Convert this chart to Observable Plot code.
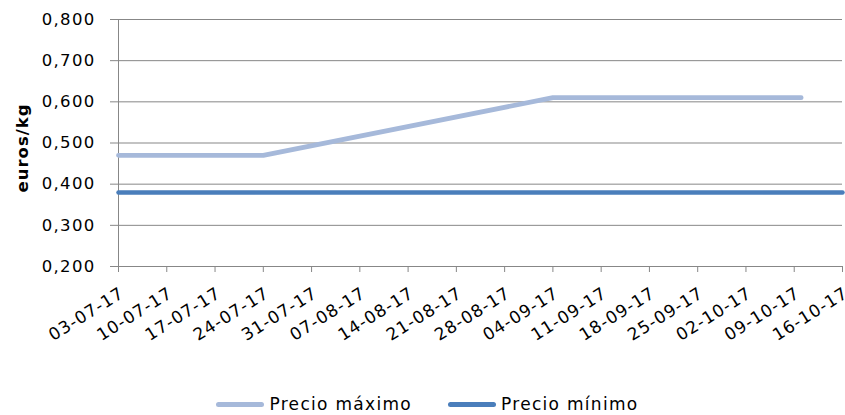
<!DOCTYPE html>
<html><head><meta charset="utf-8">
<script src="https://cdn.jsdelivr.net/npm/d3@7"></script>
<script src="https://cdn.jsdelivr.net/npm/@observablehq/plot@0.6"></script>
<style>
body{margin:0;background:#fff;}
#wrap{width:845px;height:415px;position:relative;font-family:"DejaVu Sans",sans-serif;}
#legend{position:absolute;top:394px;left:0;width:845px;display:flex;justify-content:center;align-items:center;gap:36px;font-size:17px;letter-spacing:1.3px;color:#000;box-sizing:border-box;padding-left:10px;}
.item{display:flex;align-items:center;gap:5px;}
.sw{width:48px;height:5px;border-radius:3px;}
#chart svg g[aria-label="y-axis tick label"] text{letter-spacing:1.3px;}
#chart svg g[aria-label="x-axis tick label"] text{letter-spacing:1px;}
#chart svg g[aria-label="text"] text{letter-spacing:1px;}
</style></head>
<body><div id="wrap"><div id="chart"></div>
<div id="legend"></div></div>
<script>
// Data
const weekLabels = ["2017-07-03","2017-07-10","2017-07-17","2017-07-24","2017-07-31","2017-08-07","2017-08-14","2017-08-21","2017-08-28","2017-09-04","2017-09-11","2017-09-18","2017-09-25","2017-10-02","2017-10-09","2017-10-16"];
const maxDates = ["2017-07-03","2017-07-24","2017-09-04","2017-10-10"];
const maxValues = [0.47, 0.47, 0.61, 0.61];
const minDates = ["2017-07-03","2017-10-16"];
const minValues = [0.38, 0.38];
const yTicks = [0.2, 0.3, 0.4, 0.5, 0.6, 0.7, 0.8];
const seriesNames = ["Precio máximo", "Precio mínimo"];
const colors = ["#A6B9DA", "#4A7EBB"];

const parse = d3.utcParse("%Y-%m-%d");
const weeks = weekLabels.map(parse);
const maxData = maxDates.map((d, i) => ({date: parse(d), value: maxValues[i]}));
const minData = minDates.map((d, i) => ({date: parse(d), value: minValues[i]}));
const fmtY = d => d.toFixed(3).replace(".", ",");
const fmtX = d3.utcFormat("%d-%m-%y");
const grid = "#878787";

const chart = Plot.plot({
  width: 845,
  height: 385,
  marginTop: 19,
  marginBottom: 119,
  marginLeft: 118,
  marginRight: 3,
  style: {fontFamily: "DejaVu Sans, sans-serif", fontSize: "16px", color: "#000", background: "#fff", overflow: "visible"},
  x: {type: "utc", domain: [weeks[0], weeks[weeks.length - 1]]},
  y: {domain: [0.2, 0.8]},
  marks: [
    Plot.gridY(yTicks, {stroke: grid, strokeOpacity: 1, strokeWidth: 1}),
    Plot.ruleX([weeks[0]], {stroke: grid, strokeWidth: 1}),
    Plot.axisY(yTicks, {tickFormat: fmtY, tickSize: 8, tickPadding: 15, stroke: grid, label: null, fontSize: 16.5}),
    Plot.axisX(weeks, {tickFormat: () => "", tickSize: 6, stroke: grid, label: null}),
    Plot.axisX(weeks, {tickFormat: fmtX, tickSize: 0, tickRotate: -32, tickPadding: 25, dx: 4, label: null, fontSize: 17}),
    Plot.text(["euros/kg"], {frameAnchor: "left", textAnchor: "middle", rotate: -90, dx: -96, dy: 5, fontWeight: "bold", fontSize: 16.5}),
    Plot.line(maxData, {x: "date", y: "value", stroke: colors[0], strokeWidth: 4.8, strokeLinecap: "round"}),
    Plot.line(minData, {x: "date", y: "value", stroke: colors[1], strokeWidth: 4.5})
  ]
});
document.getElementById("chart").appendChild(chart);

const legend = document.getElementById("legend");
seriesNames.forEach((name, i) => {
  const it = document.createElement("div");
  it.className = "item";
  const sw = document.createElement("div");
  sw.className = "sw";
  sw.style.background = colors[i];
  const t = document.createElement("span");
  t.textContent = name;
  it.appendChild(sw); it.appendChild(t);
  legend.appendChild(it);
});
</script></body></html>
